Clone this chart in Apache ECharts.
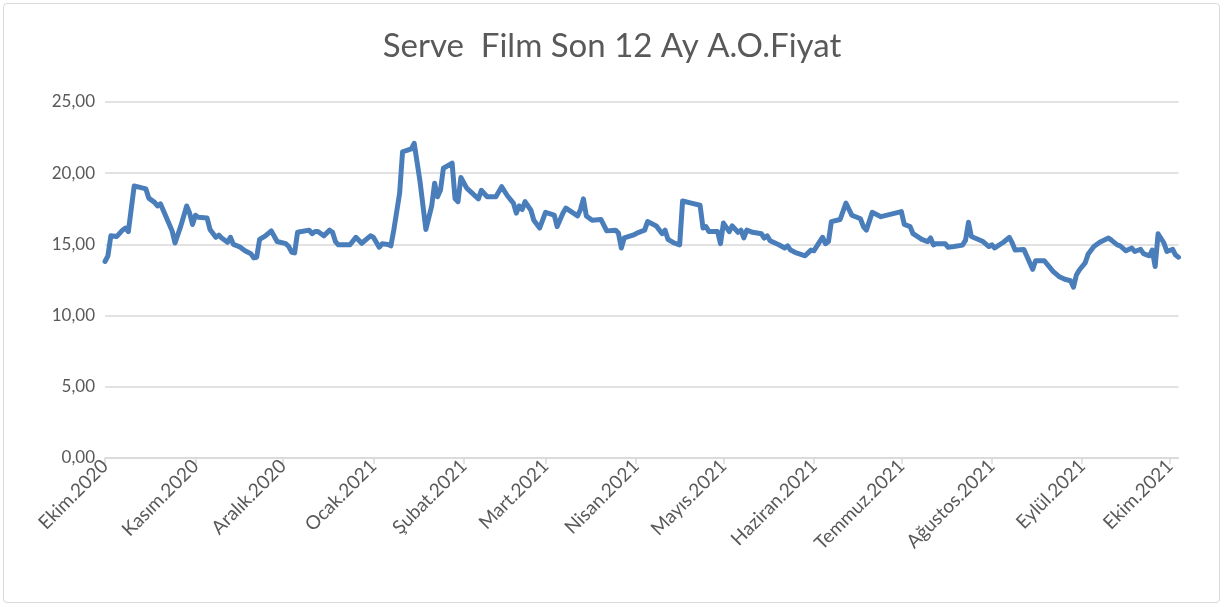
<!DOCTYPE html>
<html>
<head>
<meta charset="utf-8">
<script src="https://cdn.jsdelivr.net/npm/echarts@6/dist/echarts.min.js"></script>
<style>
  html, body { margin: 0; padding: 0; background: #ffffff; }
  #wrap { position: relative; width: 1224px; height: 607px; }
  #frame { position: absolute; left: 3px; top: 3px; width: 1217px; height: 600px; border: 1px solid #d9d9d9; border-radius: 4px; box-sizing: border-box; }
  #chart { position: absolute; left: 0; top: 0; width: 1224px; height: 607px; }
</style>
</head>
<body>
<div id="wrap"><div id="frame"></div><div id="chart"></div></div>
<script>
const chartTitle = 'Serve  Film Son 12 Ay A.O.Fiyat';

const monthStarts = ['2020-10-01','2020-11-01','2020-12-01','2021-01-01','2021-02-01','2021-03-01','2021-04-01',
  '2021-05-01','2021-06-01','2021-07-01','2021-08-01','2021-09-01','2021-10-01'];
const monthLabels = ['Ekim.2020','Kasım.2020','Aralık.2020','Ocak.2021','Şubat.2021','Mart.2021','Nisan.2021',
  'Mayıs.2021','Haziran.2021','Temmuz.2021','Ağustos.2021','Eylül.2021','Ekim.2021'];

const yTicks = [0, 5, 10, 15, 20, 25];

const dates = [
 '2020-10-01','2020-10-02','2020-10-03','2020-10-05','2020-10-07','2020-10-08','2020-10-09','2020-10-11','2020-10-13','2020-10-15',
 '2020-10-16','2020-10-18','2020-10-19','2020-10-20','2020-10-22','2020-10-24','2020-10-25','2020-10-27','2020-10-29','2020-10-30',
 '2020-10-31','2020-11-01','2020-11-02','2020-11-05','2020-11-06','2020-11-08','2020-11-09','2020-11-10','2020-11-12','2020-11-13',
 '2020-11-14','2020-11-16','2020-11-18','2020-11-20','2020-11-21','2020-11-22','2020-11-23','2020-11-25','2020-11-27','2020-11-29',
 '2020-12-02','2020-12-03','2020-12-04','2020-12-05','2020-12-06','2020-12-10','2020-12-11','2020-12-12','2020-12-13','2020-12-15',
 '2020-12-17','2020-12-18','2020-12-19','2020-12-20','2020-12-24','2020-12-26','2020-12-28','2020-12-31','2021-01-01','2021-01-03',
 '2021-01-04','2021-01-06','2021-01-07','2021-01-08','2021-01-10','2021-01-11','2021-01-14','2021-01-15','2021-01-17','2021-01-19',
 '2021-01-21','2021-01-22','2021-01-23','2021-01-24','2021-01-25','2021-01-28','2021-01-29','2021-01-30','2021-01-31','2021-02-02',
 '2021-02-06','2021-02-07','2021-02-09','2021-02-12','2021-02-14','2021-02-16','2021-02-18','2021-02-19','2021-02-20','2021-02-21',
 '2021-02-22','2021-02-24','2021-02-25','2021-02-27','2021-03-01','2021-03-04','2021-03-05','2021-03-07','2021-03-08','2021-03-12',
 '2021-03-13','2021-03-14','2021-03-15','2021-03-17','2021-03-20','2021-03-22','2021-03-25','2021-03-26','2021-03-27','2021-03-28',
 '2021-03-31','2021-04-02','2021-04-04','2021-04-05','2021-04-08','2021-04-10','2021-04-11','2021-04-12','2021-04-14','2021-04-16',
 '2021-04-17','2021-04-20','2021-04-23','2021-04-24','2021-04-25','2021-04-26','2021-04-29','2021-04-30','2021-05-01','2021-05-03',
 '2021-05-04','2021-05-06','2021-05-07','2021-05-08','2021-05-09','2021-05-11','2021-05-14','2021-05-15','2021-05-16','2021-05-17',
 '2021-05-20','2021-05-22','2021-05-23','2021-05-24','2021-05-26','2021-05-29','2021-05-31','2021-06-01','2021-06-03','2021-06-04',
 '2021-06-05','2021-06-06','2021-06-07','2021-06-10','2021-06-12','2021-06-14','2021-06-17','2021-06-18','2021-06-19','2021-06-21',
 '2021-06-24','2021-07-01','2021-07-02','2021-07-04','2021-07-05','2021-07-08','2021-07-10','2021-07-11','2021-07-12','2021-07-13',
 '2021-07-16','2021-07-17','2021-07-19','2021-07-22','2021-07-23','2021-07-24','2021-07-25','2021-07-29','2021-07-31','2021-08-01',
 '2021-08-02','2021-08-05','2021-08-07','2021-08-08','2021-08-09','2021-08-12','2021-08-15','2021-08-16','2021-08-19','2021-08-22',
 '2021-08-24','2021-08-26','2021-08-28','2021-08-29','2021-08-30','2021-08-31','2021-09-02','2021-09-03','2021-09-05','2021-09-07',
 '2021-09-10','2021-09-11','2021-09-13','2021-09-14','2021-09-16','2021-09-18','2021-09-19','2021-09-21','2021-09-22','2021-09-24',
 '2021-09-25','2021-09-26','2021-09-27','2021-09-29','2021-09-30','2021-10-02','2021-10-03','2021-10-04'
];

const prices = [
 13.8,14.2,15.6,15.55,16.0,16.15,15.9,19.1,19.0,18.9,
 18.25,17.95,17.7,17.85,16.9,15.95,15.1,16.3,17.7,17.2,
 16.4,17.05,16.9,16.85,16.05,15.5,15.65,15.45,15.15,15.5,
 15.0,14.85,14.55,14.35,14.05,14.1,15.35,15.6,15.95,15.2,
 15.05,14.85,14.45,14.4,15.85,16.0,15.75,15.9,15.9,15.6,
 16.0,15.85,15.2,14.97,14.97,15.5,15.08,15.6,15.5,14.8,
 15.04,15.0,14.9,16.0,18.6,21.5,21.7,22.1,19.4,16.05,
 17.7,19.3,18.35,18.8,20.35,20.7,18.2,18.0,19.7,18.95,
 18.2,18.8,18.35,18.35,19.05,18.4,17.9,17.2,17.7,17.45,
 18.0,17.4,16.7,16.15,17.25,17.05,16.25,17.2,17.55,17.0,
 17.45,18.2,17.0,16.7,16.75,15.95,16.0,15.8,14.75,15.45,
 15.65,15.85,16.0,16.6,16.3,15.75,16.0,15.35,15.1,14.97,
 18.05,17.9,17.75,16.15,16.25,15.9,15.9,15.05,16.5,15.9,
 16.3,15.85,16.0,15.45,16.0,15.85,15.75,15.45,15.6,15.25,
 14.97,14.75,14.9,14.6,14.4,14.2,14.6,14.55,15.2,15.5,
 15.05,15.2,16.6,16.75,17.9,17.05,16.8,16.25,16.0,17.25,
 16.95,17.3,16.4,16.25,15.75,15.35,15.2,15.45,14.97,15.05,
 15.05,14.8,14.85,14.95,15.3,16.55,15.55,15.2,14.85,14.97,
 14.75,15.15,15.5,15.1,14.6,14.65,13.25,13.85,13.85,13.1,
 12.75,12.55,12.45,12.0,12.85,13.2,13.7,14.3,14.85,15.15,
 15.45,15.3,14.97,14.9,14.55,14.75,14.5,14.65,14.35,14.2,
 14.6,13.45,15.75,15.1,14.5,14.65,14.25,14.1
];

function ts(s) { const p = s.split('-').map(Number); return Date.UTC(p[0], p[1] - 1, p[2]); }

const monthTs = monthStarts.map(ts);
const seriesData = dates.map((d, i) => [ts(d), prices[i]]);

const chart = echarts.init(document.getElementById('chart'), null, { renderer: 'canvas' });
const FONT = 'Lato, "Open Sans", sans-serif';
chart.setOption({
  animation: false,
  backgroundColor: 'transparent',
  title: {
    text: chartTitle,
    left: 'center',
    top: 25,
    textStyle: { fontFamily: FONT, fontSize: 33, fontWeight: 'normal', color: '#595959' }
  },
  grid: { left: 105, right: 45.5, top: 102, bottom: 149, containLabel: false },
  xAxis: {
    type: 'value',
    min: ts(dates[0]),
    max: ts(dates[dates.length - 1]),
    axisLine: { show: true, lineStyle: { color: '#d9d9d9', width: 1.5 } },
    axisTick: { show: true, length: 6, lineStyle: { color: '#d9d9d9', width: 1.5 }, customValues: monthTs },
    axisLabel: {
      customValues: monthTs,
      rotate: 45,
      margin: 5,
      fontFamily: FONT,
      fontSize: 19,
      color: '#595959',
      formatter: function (v) { const i = monthTs.indexOf(Number(v)); return i >= 0 ? monthLabels[i] : ''; }
    },
    splitLine: { show: false }
  },
  yAxis: {
    type: 'value',
    min: yTicks[0],
    max: yTicks[yTicks.length - 1],
    interval: yTicks[1] - yTicks[0],
    axisLine: { show: false },
    axisTick: { show: false },
    axisLabel: {
      margin: 10,
      fontFamily: FONT,
      fontSize: 17,
      color: '#595959',
      formatter: function (v) { return v.toFixed(2).replace('.', ','); }
    },
    splitLine: { show: true, lineStyle: { color: '#d9d9d9', width: 1.5 } }
  },
  series: [{
    type: 'line',
    data: seriesData,
    showSymbol: false,
    symbol: 'none',
    lineStyle: { color: '#4a7ebb', width: 5, cap: 'round', join: 'round' },
    itemStyle: { color: '#4a7ebb' }
  }]
});
</script>
</body>
</html>
